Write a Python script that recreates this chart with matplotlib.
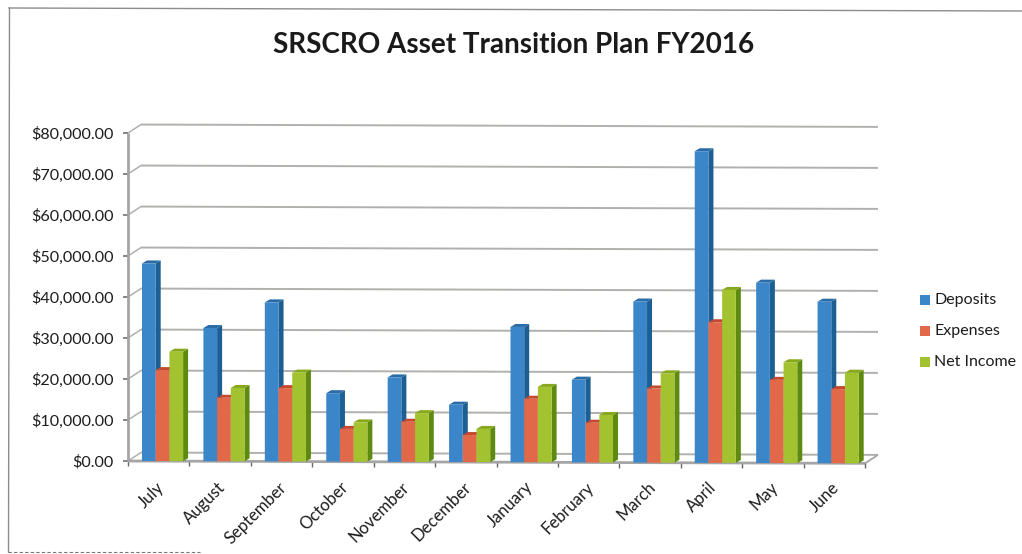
import matplotlib
matplotlib.use("Agg")
import matplotlib.pyplot as plt
from matplotlib.patches import Polygon
from matplotlib.transforms import Affine2D

plt.rcParams['font.family'] = ['Lato', 'DejaVu Sans']

months = ["July", "August", "September", "October", "November", "December",
          "January", "February", "March", "April", "May", "June"]
deposits = [48200, 32500, 38800, 16700, 20600, 14000, 33000, 20200, 39300, 76000, 44000, 39400]
expenses = [22200, 15500, 17900, 8000, 9800, 6600, 15500, 9700, 18100, 34300, 20300, 18100]
net_income = [26700, 17900, 21700, 9600, 11900, 8100, 18400, 11600, 21800, 42200, 24600, 22100]
y_ticks = list(range(0, 90000, 10000))

W, H = 1022, 554
fig = plt.figure(figsize=(W / 100, H / 100), dpi=100, facecolor="white")

# front plane of the fake 3d box, in pixels
left, right, top, bottom = 128, 865, 133, 461
ax = fig.add_axes([left / W, 1 - bottom / H, (right - left) / W, (bottom - top) / H])
ax.set_xlim(0, 12)
ax.set_ylim(0, 80000)
ax.patch.set_visible(False)
for s in ax.spines.values():
    s.set_visible(False)

px_x = 12 / (right - left)
px_y = 80000 / (bottom - top)

# scan is a little crooked, lean everything down to the right
lean = Affine2D().translate(-left, 0).skew(0, -0.0032).translate(left, 0)
tr = ax.transData + lean

wall_dx, wall_dy = 13 * px_x, 8.5 * px_y
bar_dx, bar_dy = 5 * px_x, 3 * px_y
grid_c = "#b0b0ad"


def line(xs, ys, color=grid_c, lw=1.3, z=1):
    ax.plot(xs, ys, color=color, lw=lw, transform=tr, clip_on=False, zorder=z,
            solid_capstyle="butt")


# walls
for v in y_ticks:
    line([wall_dx, 12 + wall_dx], [v + wall_dy, v + wall_dy], lw=1.4)
    line([0, wall_dx], [v, v + wall_dy], lw=1.1)
    line([-5 * px_x, 0], [v, v], color="#555555", lw=1.0)
line([0, 0], [0, 80000], color="#a5a5a5", lw=2.0)
line([0, 12], [0, 0], color="#a5a5a5", lw=2.0, z=4)
line([12, 12 + wall_dx], [0, wall_dy], color="#a5a5a5", lw=1.3)
for i in range(13):
    line([i, i], [0, -5 * px_y], color="#666666", lw=1.0)

series = [
    (deposits, "#3b86c8", "#1d5e93", "#2b6ca6"),
    (expenses, "#e1694a", "#b8452c", "#c5492f"),
    (net_income, "#a2c32f", "#5e8a0f", "#86a81a"),
]
bar_w = 13.7 * px_x
start = 14 * px_x

z = 5
for i in range(len(months)):
    for k, (vals, front, side, cap) in enumerate(series):
        x0 = i + start + k * bar_w
        x1 = x0 + bar_w
        v = vals[i]
        ax.add_patch(Polygon([(x1, 0), (x1 + bar_dx, bar_dy), (x1 + bar_dx, v + bar_dy), (x1, v)],
                             fc=side, ec="none", transform=tr, clip_on=False, zorder=z))
        ax.add_patch(Polygon([(x0, v), (x0 + bar_dx, v + bar_dy), (x1 + bar_dx, v + bar_dy), (x1, v)],
                             fc=cap, ec="none", transform=tr, clip_on=False, zorder=z))
        ax.add_patch(Polygon([(x0, 0), (x1, 0), (x1, v), (x0, v)],
                             fc=front, ec="none", transform=tr, clip_on=False, zorder=z + 0.5))
        z += 1

ax.set_yticks(y_ticks)
ax.set_yticklabels(["${:,.2f}".format(v) for v in y_ticks], fontsize=11.6, color="#1c1c1c")
ax.tick_params(axis="y", length=0, pad=10.5)
ax.set_xticks([i + 0.45 for i in range(12)])
ax.set_xticklabels(months, rotation=45, ha="right", rotation_mode="anchor",
                   fontsize=12, color="#1c1c1c")
ax.tick_params(axis="x", length=0, pad=13)

fig.text(514 / W, 1 - 45 / H, "SRSCRO Asset Transition Plan FY2016", ha="center", va="center",
         fontsize=20.1, fontweight="bold", color="#1a1a1a")

# legend
legend_y = [300, 331, 362]
names = ["Deposits", "Expenses", "Net Income"]
for y, name, (vals, front, side, cap) in zip(legend_y, names, series):
    fig.patches.append(plt.Rectangle((920 / W, 1 - (y + 5) / H), 10 / W, 10 / H, fc=front, ec="none",
                                     transform=fig.transFigure))
    fig.text(934 / W, 1 - y / H, name, va="center", fontsize=11.5, color="#1c1c1c")

# chart frame from the scan
fig.add_artist(plt.Line2D([9 / W, 1], [1 - 8 / H, 1 - 11 / H], color="#8c8c8c", lw=1))
fig.add_artist(plt.Line2D([9.5 / W, 8.5 / W], [1 - 8 / H, 1 - 552 / H], color="#8c8c8c", lw=1))
fig.add_artist(plt.Line2D([8 / W, 200 / W], [1 - 552 / H, 1 - 552 / H], color="#777777", lw=0.8, ls=(0, (3, 2))))

fig.savefig("out.png", dpi=100)
